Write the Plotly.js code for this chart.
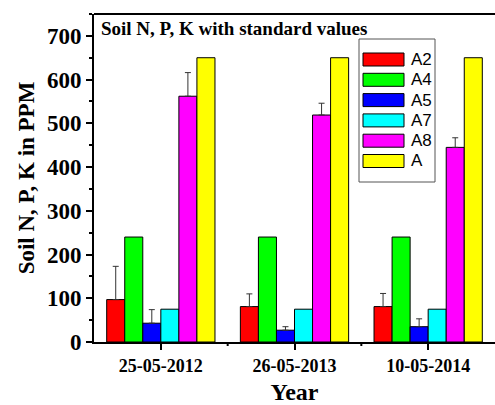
<!DOCTYPE html>
<html>
<head>
<meta charset="utf-8">
<script src="https://cdn.plot.ly/plotly-3.0.1.min.js"></script>
<style>html,body{margin:0;padding:0;background:#fff;overflow:hidden;}#chart{width:495px;height:405px;}</style>
</head>
<body>
<div id="chart"></div>
<script>
// ---- data ----
const categories = ["25-05-2012", "26-05-2013", "10-05-2014"];
const seriesNames = ["A2", "A4", "A5", "A7", "A8", "A"];
const seriesColors = ["#FF0000", "#00FF00", "#0000FF", "#00FFFF", "#FF00FF", "#FFFF00"];
const A2 = [97, 81, 81];
const A4 = [240, 240, 240];
const A5 = [43, 27, 35];
const A7 = [75, 75, 75];
const A8 = [562, 519, 445];
const A  = [650, 650, 650];
const A2err = [76, 29, 30];
const A4err = [0, 0, 0];
const A5err = [31, 8, 18];
const A7err = [0, 0, 0];
const A8err = [54, 27, 22];
const Aerr  = [0, 0, 0];
const yTicks = [0, 100, 200, 300, 400, 500, 600, 700];

const values = [A2, A4, A5, A7, A8, A];
const errs = [A2err, A4err, A5err, A7err, A8err, Aerr];
const xIdx = categories.map((c, i) => i);

const serif = "'Liberation Serif', 'Times New Roman', serif";
const sans = "'Liberation Sans', Arial, sans-serif";

const traces = seriesNames.map((name, k) => {
  const hasErr = errs[k].some(v => v > 0);
  const t = {
    type: 'bar', name: name, x: xIdx, y: values[k],
    marker: {color: seriesColors[k], line: {color: '#000', width: 1}},
    showlegend: false
  };
  if (hasErr) {
    t.error_y = {type: 'data', symmetric: false, array: errs[k], arrayminus: errs[k].map(() => 0),
                 color: '#333', thickness: 1, width: 3};
  }
  return t;
});

// plot area in pixels
const L = 94, R = 0, T = 14, B = 63, W = 495, H = 405;
const pw = W - L - R, ph = H - T - B;
const px = x => (x - L) / pw;
const py = y => (H - B - y) / ph;

const shapes = [];
const annotations = [];
// white cover over the right edge of the plot (the reference shows no right frame)
shapes.push({type: 'rect', xref: 'paper', yref: 'paper', x0: px(489), x1: 1.05, y0: 2 / ph, y1: 1 - 2 / ph,
  line: {width: 0}, fillcolor: '#fff', layer: 'above'});
// top frame line
shapes.push({type: 'line', xref: 'paper', yref: 'paper', x0: 0, x1: 1, y0: 1, y1: 1,
  line: {color: '#000', width: 2}, layer: 'above'});
// minor x ticks between the categories
[0.5, 1.5].forEach(v => {
  shapes.push({type: 'line', xref: 'x', yref: 'paper', x0: v, x1: v, y0: 0, y1: -4 / ph,
    line: {color: '#000', width: 2}, layer: 'above'});
});
// legend box
shapes.push({type: 'rect', xref: 'paper', yref: 'paper', x0: px(359), x1: px(435), y0: py(182), y1: py(39),
  line: {color: '#555', width: 1}, fillcolor: '#fff', layer: 'above'});
seriesNames.forEach((name, k) => {
  const cy = 59.5 + k * 20.3;
  shapes.push({type: 'rect', xref: 'paper', yref: 'paper', x0: px(363), x1: px(404), y0: py(cy + 6.5), y1: py(cy - 6.5),
    line: {color: '#000', width: 1}, fillcolor: seriesColors[k], layer: 'above'});
  annotations.push({xref: 'paper', yref: 'paper', x: px(409), y: py(cy), xanchor: 'left', yanchor: 'middle',
    text: name, showarrow: false, font: {family: sans, size: 17, color: '#000'}});
});
annotations.push({xref: 'paper', yref: 'paper', x: px(99), y: py(16), xanchor: 'left', yanchor: 'top',
  text: '<b>Soil N, P, K with standard values</b>', showarrow: false, font: {family: serif, size: 19, color: '#000'}});

const layout = {
  width: W, height: H,
  margin: {l: L, r: R, t: T, b: B, pad: 0},
  paper_bgcolor: '#fff', plot_bgcolor: '#fff',
  barmode: 'group', bargap: 0.19, bargroupgap: 0,
  showlegend: false,
  xaxis: {
    range: [-0.5, 2.5], tickmode: 'array', tickvals: xIdx, ticktext: categories,
    ticks: 'outside', ticklen: 6, tickwidth: 2, tickcolor: '#000',
    showline: true, linewidth: 2, linecolor: '#000', mirror: false,
    showgrid: false, zeroline: false,
    tickfont: {family: serif, size: 18, color: '#000', weight: 'bold'},
    title: {text: '<b>Year</b>', font: {family: serif, size: 24, color: '#000'}, standoff: 18}
  },
  yaxis: {
    range: [0, 750], tickmode: 'array', tickvals: yTicks,
    ticks: 'outside', ticklen: 6, tickwidth: 2, tickcolor: '#000',
    minor: {tickmode: 'linear', tick0: 50, dtick: 100, ticks: 'outside', ticklen: 3, tickwidth: 2, tickcolor: '#000', showgrid: false},
    showline: true, linewidth: 2, linecolor: '#000', mirror: false,
    showgrid: false, zeroline: false,
    tickfont: {family: serif, size: 23, color: '#000', weight: 'bold'},
    title: {text: '<b>Soil N, P, K in PPM</b>', font: {family: serif, size: 23, color: '#000'}, standoff: 6}
  },
  shapes: shapes,
  annotations: annotations
};

Plotly.newPlot('chart', traces, layout, {displayModeBar: false, staticPlot: true});
</script>
</body>
</html>
